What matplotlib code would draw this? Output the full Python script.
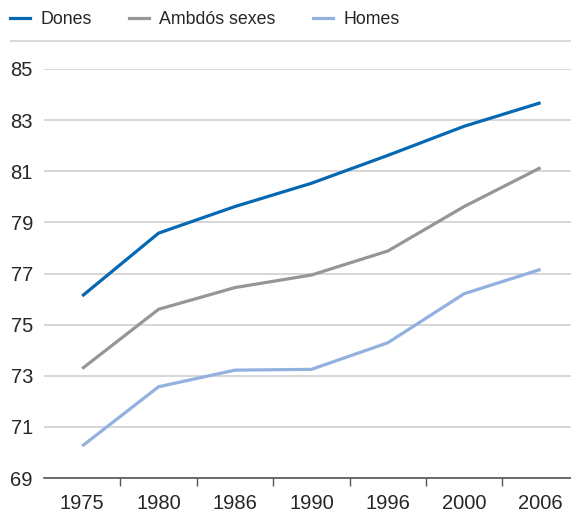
import matplotlib
matplotlib.use("Agg")
import matplotlib.pyplot as plt
from matplotlib.lines import Line2D

years = ["1975", "1980", "1986", "1990", "1996", "2000", "2006"]
dones = [76.12, 78.58, 79.62, 80.53, 81.62, 82.76, 83.68]
ambdos = [73.28, 75.60, 76.45, 76.94, 77.88, 79.62, 81.14]
homes = [70.25, 72.57, 73.22, 73.25, 74.29, 76.21, 77.16]
yticks = [69, 71, 73, 75, 77, 79, 81, 83, 85]

plt.rcParams['font.family'] = ['Liberation Sans', 'DejaVu Sans']

W, H = 571, 514
fig = plt.figure(figsize=(W / 100, H / 100), dpi=100)
left = 44 / W
bottom = (H - 478) / H
top = (H - 69) / H
width = 7 * 76.4 / W
ax = fig.add_axes([left, bottom, width, top - bottom])

x = list(range(len(years)))
lw = 2.3
ax.plot(x, dones, color="#0568B3", lw=lw, label="Dones", solid_capstyle="butt")
ax.plot(x, ambdos, color="#969696", lw=lw, label="Ambdós sexes", solid_capstyle="butt")
ax.plot(x, homes, color="#93B1DE", lw=lw, label="Homes", solid_capstyle="butt")

ax.set_xlim(-0.5, 6.5)
ax.set_ylim(69, 85)
ax.set_yticks(yticks)
ax.set_yticklabels([str(v) for v in yticks])
ax.set_xticks(x)
ax.set_xticklabels(years)
ax.set_xticks([i + 0.5 for i in range(len(years) - 1)], minor=True)
ax.tick_params(axis="x", which="major", length=0, pad=11.5, labelsize=14.5, labelcolor="#262626")
ax.tick_params(axis="x", which="minor", length=6, width=1, color="#555555", direction="out")
ax.tick_params(axis="y", length=0, pad=8, labelsize=14.5, labelcolor="#262626")

ax.yaxis.grid(True, color="#D4D4D4", lw=1.3)
ax.set_axisbelow(True)
for s in ["top", "right", "left"]:
    ax.spines[s].set_visible(False)
ax.spines["bottom"].set_color("#555555")
ax.spines["bottom"].set_linewidth(1.2)
ax.spines["bottom"].set_zorder(3)

# header separator line
fig.add_artist(Line2D([11 / W, 1.0], [(H - 41) / H] * 2, color="#D9D9D9", lw=1.5,
                      transform=fig.transFigure))

handles = [Line2D([], [], color="#0568B3", lw=2.3),
           Line2D([], [], color="#969696", lw=2.3),
           Line2D([], [], color="#93B1DE", lw=2.3)]
fig.legend(handles, ["Dones", "Ambdós sexes", "Homes"], loc="center left",
           bbox_to_anchor=(10 / W, (H - 20) / H), ncol=3, frameon=False,
           fontsize=12.8, handlelength=1.15, handletextpad=0.55, columnspacing=2.1,
           borderpad=0, borderaxespad=0, labelcolor="#262626")

fig.savefig("out.png", dpi=100)
